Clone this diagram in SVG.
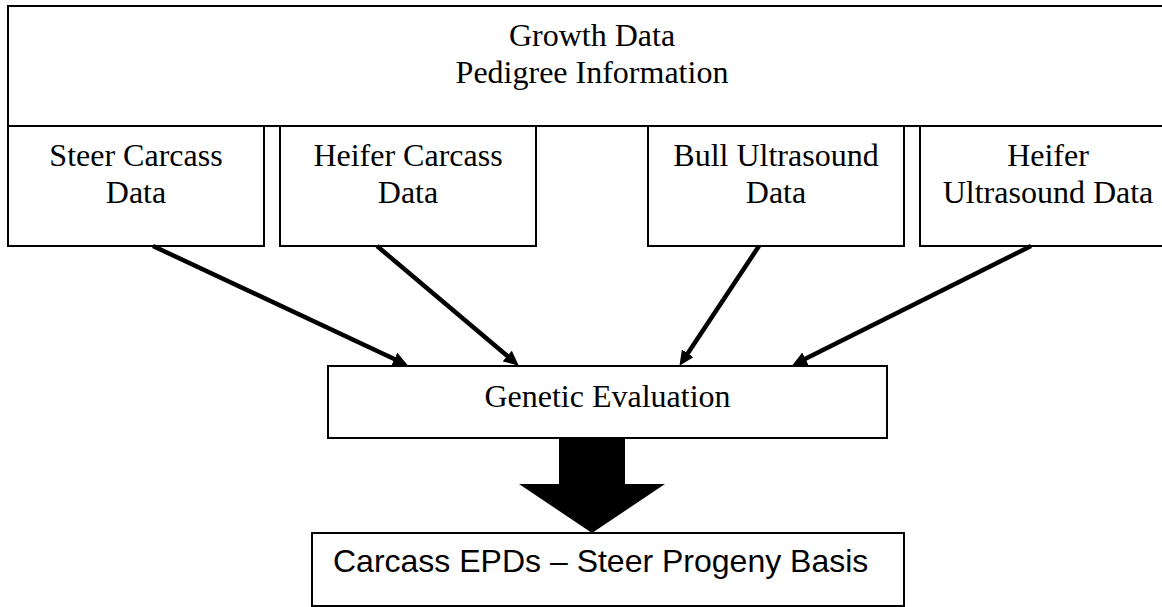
<svg xmlns="http://www.w3.org/2000/svg" width="1162" height="607" viewBox="0 0 1162 607">
<style>
.box{fill:#fff;stroke:#000;stroke-width:2}
.t{font-family:"Liberation Serif","Times New Roman",serif;font-size:32px;fill:#000;text-anchor:middle}
.s{font-family:"Liberation Sans",Arial,sans-serif;font-size:32px;fill:#000}
.c{fill:none;stroke:#000;stroke-width:4.5;marker-end:url(#ah)}
</style>
<defs>
<marker id="ah" viewBox="0 0 15 14" refX="4" refY="7" markerWidth="15" markerHeight="14" markerUnits="userSpaceOnUse" orient="auto">
<path d="M0,0 L15,7 L0,14 z" fill="#000"/>
</marker>
</defs>
<rect width="1162" height="607" fill="#fff"/>
<g id="top">
<rect class="box" x="8" y="6" width="1170" height="120"/>
<text class="t" x="592" y="46">Growth Data</text>
<text class="t" x="592" y="83">Pedigree Information</text>
</g>
<g id="steer">
<rect class="box" x="8" y="126" width="256" height="120"/>
<text class="t" x="136" y="166">Steer Carcass</text>
<text class="t" x="136" y="203">Data</text>
</g>
<g id="heifer-carcass">
<rect class="box" x="280" y="126" width="256" height="120"/>
<text class="t" x="408" y="166">Heifer Carcass</text>
<text class="t" x="408" y="203">Data</text>
</g>
<g id="bull-ultrasound">
<rect class="box" x="648" y="126" width="256" height="120"/>
<text class="t" x="776" y="166">Bull Ultrasound</text>
<text class="t" x="776" y="203">Data</text>
</g>
<g id="heifer-ultrasound">
<rect class="box" x="920" y="126" width="256" height="120"/>
<text class="t" x="1048" y="166">Heifer</text>
<text class="t" x="1048" y="203">Ultrasound Data</text>
</g>
<g id="genetic">
<rect class="box" x="328" y="366" width="559" height="72"/>
<text class="t" x="607.5" y="407">Genetic Evaluation</text>
</g>
<g id="epd">
<rect class="box" x="312" y="533" width="592" height="73"/>
<text class="s" x="333" y="572">Carcass EPDs – Steer Progeny Basis</text>
</g>
<g id="connectors">
<path class="c" d="M153,246 L397.96,360.73"/>
<path class="c" d="M377,246 L510.36,358.55"/>
<path class="c" d="M759,246 L685.53,356.67"/>
<path class="c" d="M1031,246 L801.94,360.53"/>
<polygon points="559,439 625,439 625,484 665,484 592,533 519,484 559,484" fill="#000"/>
</g>
</svg>
